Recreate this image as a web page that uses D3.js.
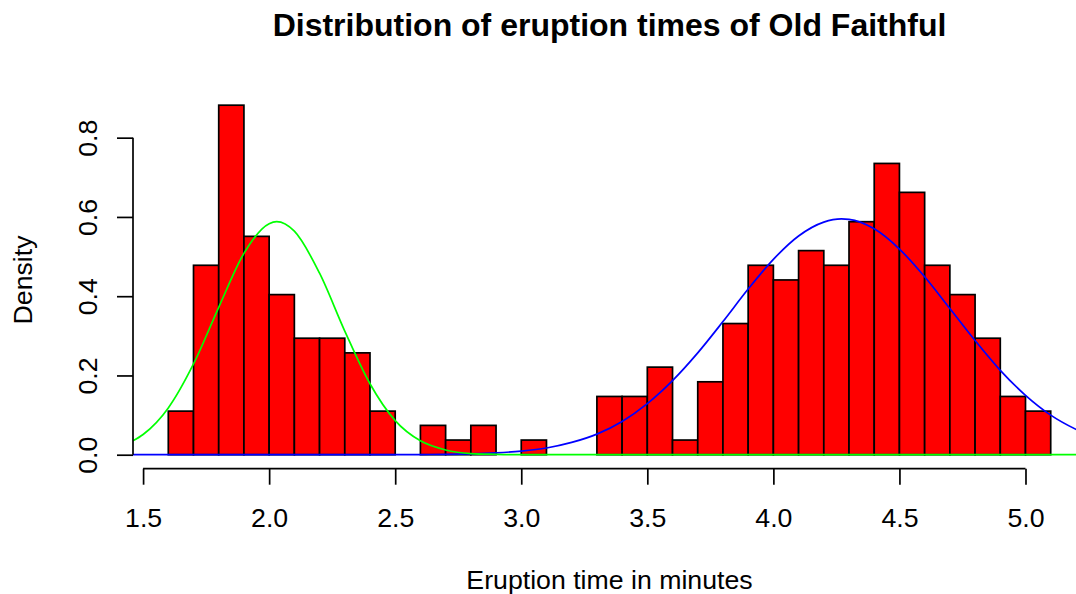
<!DOCTYPE html>
<html>
<head>
<meta charset="utf-8">
<script src="https://cdn.jsdelivr.net/npm/d3@7"></script>
<style>
  body { margin: 0; background: #fff; }
  text { font-family: "Liberation Sans", Arial, sans-serif; fill: #000; }
</style>
</head>
<body>
<div id="chart"></div>
<script>
// histogram bins (eruption minutes) and their densities
var breaks = [1.6, 1.7, 1.8, 1.9, 2.0, 2.1, 2.2, 2.3, 2.4, 2.5, 2.6, 2.7, 2.8, 2.9, 3.0, 3.1, 3.2, 3.3,
  3.4, 3.5, 3.6, 3.7, 3.8, 3.9, 4.0, 4.1, 4.2, 4.3, 4.4, 4.5, 4.6, 4.7, 4.8, 4.9, 5.0, 5.1];
var density = [0.110, 0.478, 0.882, 0.551, 0.404, 0.294, 0.294, 0.257, 0.110, 0, 0.074, 0.037, 0.074, 0,
  0.037, 0, 0, 0.147, 0.147, 0.221, 0.037, 0.184, 0.331, 0.478, 0.441, 0.515, 0.478, 0.588, 0.735,
  0.662, 0.478, 0.404, 0.294, 0.147, 0.110];

// green curve (short eruptions)
var greenX = [1.46, 1.5, 1.6, 1.7, 1.8, 1.9, 2.0, 2.03, 2.1, 2.2, 2.3, 2.4, 2.5, 2.6, 2.7, 2.8, 2.9, 3.0, 3.2, 5.24];
var greenY = [0.035, 0.051, 0.118, 0.229, 0.372, 0.508, 0.583, 0.588, 0.564, 0.458, 0.312, 0.179, 0.086,
  0.035, 0.012, 0.003, 0.001, 0, 0, 0];

// blue curve (long eruptions)
var blueX = [1.46, 2.5, 2.6, 2.7, 2.8, 2.9, 3.0, 3.1, 3.2, 3.3, 3.4, 3.5, 3.6, 3.7, 3.8, 3.9, 4.0, 4.1, 4.2,
  4.27, 4.3, 4.4, 4.5, 4.6, 4.7, 4.8, 4.9, 5.0, 5.1, 5.2, 5.24];
var blueY = [0, 0, 0.0004, 0.001, 0.0022, 0.0047, 0.0092, 0.017, 0.031, 0.052, 0.084, 0.129, 0.187, 0.257,
  0.336, 0.418, 0.493, 0.552, 0.587, 0.595, 0.594, 0.570, 0.519, 0.449, 0.369, 0.288, 0.213, 0.150,
  0.100, 0.064, 0.052];

var xTicks = [1.5, 2.0, 2.5, 3.0, 3.5, 4.0, 4.5, 5.0];
var yTicks = [0.0, 0.2, 0.4, 0.6, 0.8];

var titleText = 'Distribution of eruption times of Old Faithful';
var xLabel = 'Eruption time in minutes';
var yLabel = 'Density';

drawChart();

function drawChart() {
  var width = 1076, height = 594;
  var left = 133, right = 1086, top = 91.2, bottom = 468.7;
  var lw = 1.7;

  var svg = d3.select('#chart').append('svg')
    .attr('width', width).attr('height', height);

  // R style 4% padding around the data range
  var xmin = breaks[0], xmax = breaks[breaks.length - 1];
  var ymax = d3.max(density);
  var x = d3.scaleLinear()
    .domain([xmin - 0.04 * (xmax - xmin), xmax + 0.04 * (xmax - xmin)])
    .range([left, right]);
  var y = d3.scaleLinear()
    .domain([-0.04 * ymax, ymax * 1.04])
    .range([bottom, top]);

  // bars
  var bins = density.map(function (d, i) {
    return { x0: breaks[i], x1: breaks[i + 1], d: d };
  });
  svg.append('g').selectAll('rect')
    .data(bins).enter().append('rect')
    .attr('x', function (d) { return x(d.x0); })
    .attr('y', function (d) { return y(d.d); })
    .attr('width', function (d) { return x(d.x1) - x(d.x0); })
    .attr('height', function (d) { return y(0) - y(d.d); })
    .attr('fill', '#ff0000')
    .attr('stroke', '#000')
    .attr('stroke-width', lw);

  // curves, blue first then green on top
  var line = d3.line()
    .x(function (d) { return x(d[0]); })
    .y(function (d) { return y(d[1]); })
    .curve(d3.curveMonotoneX);

  svg.append('path')
    .attr('d', line(d3.zip(blueX, blueY)))
    .attr('fill', 'none').attr('stroke', '#0000ff').attr('stroke-width', lw);
  svg.append('path')
    .attr('d', line(d3.zip(greenX, greenY)))
    .attr('fill', 'none').attr('stroke', '#00ff00').attr('stroke-width', lw);

  // x axis
  var gx = svg.append('g')
    .attr('transform', 'translate(0,' + bottom + ')')
    .call(d3.axisBottom(x).tickValues(xTicks).tickFormat(d3.format('.1f')).tickSize(16).tickSizeOuter(0));
  gx.select('.domain').remove();
  gx.append('line')
    .attr('x1', x(xTicks[0])).attr('x2', x(xTicks[xTicks.length - 1]))
    .attr('stroke', '#000').attr('stroke-width', lw);
  gx.selectAll('.tick line').attr('stroke', '#000').attr('stroke-width', lw);
  gx.selectAll('.tick text')
    .attr('y', 58.3).attr('dy', null)
    .attr('font-size', '26.7px')
    .attr('font-family', '"Liberation Sans", Arial, sans-serif')
    .attr('fill', '#000');

  // y axis, rotated labels like R
  var gy = svg.append('g')
    .attr('transform', 'translate(' + left + ',0)')
    .call(d3.axisLeft(y).tickValues(yTicks).tickFormat(d3.format('.1f')).tickSize(16).tickSizeOuter(0));
  gy.select('.domain').remove();
  gy.append('line')
    .attr('y1', y(yTicks[0])).attr('y2', y(yTicks[yTicks.length - 1]))
    .attr('stroke', '#000').attr('stroke-width', lw);
  gy.selectAll('.tick line').attr('stroke', '#000').attr('stroke-width', lw);
  gy.selectAll('.tick text')
    .attr('x', 0).attr('y', -36).attr('dy', null)
    .attr('transform', 'rotate(-90)')
    .attr('text-anchor', 'middle')
    .attr('font-size', '26.7px')
    .attr('font-family', '"Liberation Sans", Arial, sans-serif')
    .attr('fill', '#000');

  var cx = (left + right) / 2, cy = (top + bottom) / 2;

  svg.append('text')
    .attr('x', cx).attr('y', 36)
    .attr('text-anchor', 'middle')
    .attr('font-size', '32px').attr('font-weight', 'bold')
    .text(titleText);

  svg.append('text')
    .attr('x', cx).attr('y', 589)
    .attr('text-anchor', 'middle')
    .attr('font-size', '26.7px')
    .text(xLabel);

  svg.append('text')
    .attr('transform', 'translate(31.7,' + cy + ') rotate(-90)')
    .attr('text-anchor', 'middle')
    .attr('font-size', '26.7px')
    .text(yLabel);
}
</script>
</body>
</html>
